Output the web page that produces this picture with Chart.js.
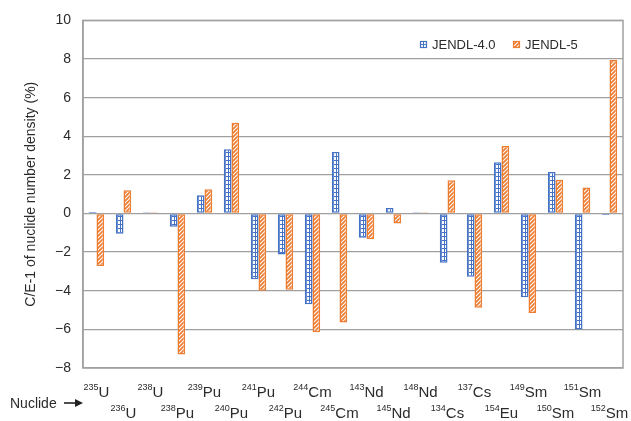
<!DOCTYPE html>
<html>
<head>
<meta charset="utf-8">
<script src="https://cdn.jsdelivr.net/npm/chart.js@4"></script>
<style>
  html, body { margin: 0; padding: 0; background: #fff; }
  #wrap { width: 631px; height: 421px; position: relative; }
</style>
</head>
<body>
<div id="wrap"><canvas id="chart"></canvas></div>
<script>
// Data
const massNumbers = ['235', '236', '238', '238', '239', '240', '241', '242', '244', '245',
                     '143', '145', '148', '134', '137', '154', '149', '150', '151', '152'];
const elements = ['U', 'U', 'U', 'Pu', 'Pu', 'Pu', 'Pu', 'Pu', 'Cm', 'Cm',
                  'Nd', 'Nd', 'Nd', 'Cs', 'Cs', 'Eu', 'Sm', 'Sm', 'Sm', 'Sm'];
const jendl40 = [0.08, -1.05, 0.07, -0.68, 0.95, 3.33, -3.4, -2.12, -4.7, 3.18,
                 -1.25, 0.28, 0.06, -2.55, -3.28, 2.65, -4.33, 2.15, -6.0, -0.08];
const jendl5 = [-2.72, 1.2, 0.07, -7.3, 1.25, 4.7, -4.0, -3.95, -6.15, -5.65,
                -1.32, -0.52, 0.06, 1.72, -4.88, 3.5, -5.15, 1.75, 1.35, 7.95];
const yTicks = [10, 8, 6, 4, 2, 0, -2, -4, -6, -8];

const labels = massNumbers.map((m, i) => m + elements[i]);

const BLUE = '#4472c4';
const ORANGE = '#ed7d31';
const FONT = '"Liberation Sans", Arial, sans-serif';

// Patterns
function gridPattern() {
    const c = document.createElement('canvas');
    c.width = 3; c.height = 4;
    const g = c.getContext('2d');
    g.fillStyle = '#fff';
    g.fillRect(0, 0, 3, 4);
    g.fillStyle = BLUE;
    g.fillRect(0, 0, 3, 1);
    g.fillRect(0, 0, 1, 4);
    return g.createPattern(c, 'repeat');
}

function hatchPattern() {
    const c = document.createElement('canvas');
    c.width = 4; c.height = 4;
    const g = c.getContext('2d');
    g.fillStyle = ORANGE;
    g.fillRect(0, 0, 4, 4);
    g.strokeStyle = '#fff';
    g.lineWidth = 1.1;
    g.beginPath();
    g.moveTo(-1, 5); g.lineTo(5, -1);
    g.moveTo(-1, 1); g.lineTo(1, -1);
    g.moveTo(3, 5); g.lineTo(5, 3);
    g.stroke();
    return g.createPattern(c, 'repeat');
}

const bluePat = gridPattern();
const orangePat = hatchPattern();

// Plugin: frame, legend, x labels
const decor = {
    id: 'decor',
    afterDraw(chart) {
        const ctx = chart.ctx;
        const a = chart.chartArea;
        const x = chart.scales.x;
        ctx.save();

        // frame
        ctx.strokeStyle = '#a0a0a0';
        ctx.lineWidth = 1.5;
        ctx.strokeRect(a.left, a.top, a.right - a.left, a.bottom - a.top);

        // legend
        const items = [
            { text: 'JENDL-4.0', fill: bluePat, stroke: BLUE, x: 420 },
            { text: 'JENDL-5', fill: orangePat, stroke: ORANGE, x: 513 }
        ];
        ctx.font = '13px ' + FONT;
        ctx.textBaseline = 'middle';
        ctx.textAlign = 'left';
        items.forEach(it => {
            ctx.fillStyle = it.fill;
            ctx.fillRect(it.x, 41, 7, 7);
            ctx.strokeStyle = it.stroke;
            ctx.lineWidth = 1.2;
            ctx.strokeRect(it.x + 0.5, 41.5, 6, 6);
            ctx.fillStyle = '#2b2b2b';
            ctx.fillText(it.text, it.x + 12, 45);
        });

        // x labels with superscript mass numbers, two staggered rows
        ctx.textBaseline = 'alphabetic';
        const supFont = '9px ' + FONT;
        const mainFont = '15px ' + FONT;
        massNumbers.forEach((m, i) => {
            const cx = x.getPixelForValue(i);
            const base = i % 2 === 0 ? 397 : 418;
            ctx.font = supFont;
            const ws = ctx.measureText(m).width;
            ctx.font = mainFont;
            const wm = ctx.measureText(elements[i]).width;
            const left = cx - (ws + wm) / 2;
            ctx.fillStyle = '#2b2b2b';
            ctx.font = supFont;
            ctx.fillText(m, left, base - 7);
            ctx.font = mainFont;
            ctx.fillText(elements[i], left + ws, base);
        });

        // "Nuclide ->"
        ctx.font = '14px ' + FONT;
        ctx.fillStyle = '#2b2b2b';
        ctx.fillText('Nuclide', 10, 408);
        ctx.strokeStyle = '#222';
        ctx.fillStyle = '#222';
        ctx.lineWidth = 1.6;
        ctx.beginPath();
        ctx.moveTo(64, 403);
        ctx.lineTo(77, 403);
        ctx.stroke();
        ctx.beginPath();
        ctx.moveTo(83, 403);
        ctx.lineTo(75, 399);
        ctx.lineTo(75, 407);
        ctx.closePath();
        ctx.fill();

        ctx.restore();
    }
};

// Chart
const config = {
    type: 'bar',
    data: {
        labels: labels,
        datasets: [
            {
                label: 'JENDL-4.0',
                data: jendl40,
                backgroundColor: bluePat,
                borderColor: BLUE,
                borderWidth: 1.5,
                borderSkipped: false,
            },
            {
                label: 'JENDL-5',
                data: jendl5,
                backgroundColor: orangePat,
                borderColor: ORANGE,
                borderWidth: 1.5,
                borderSkipped: false,
            }
        ]
    },
    options: {
        responsive: false,
        animation: false,
        devicePixelRatio: 1,
        layout: { padding: { left: 0, top: 20, right: 8, bottom: 0 } },
        datasets: { bar: { categoryPercentage: 0.57, barPercentage: 1.0 } },
        plugins: {
            legend: { display: false },
            tooltip: { enabled: false }
        },
        scales: {
            x: {
                grid: { display: false, drawTicks: false },
                border: { display: false },
                ticks: { display: false },
                afterFit(s) { s.height = 53; }
            },
            y: {
                min: -8,
                max: 10,
                afterBuildTicks(s) { s.ticks = yTicks.map(v => ({ value: v })); },
                ticks: {
                    padding: 12,
                    color: '#2b2b2b',
                    font: { family: FONT, size: 14 },
                    callback: v => (v < 0 ? '\u2212' + Math.abs(v) : String(v))
                },
                grid: { color: '#a0a0a0', lineWidth: 1.3, drawTicks: false },
                border: { color: '#a0a0a0', width: 1.5 },
                title: {
                    display: true,
                    text: 'C/E-1 of nuclide number density (%)',
                    color: '#2b2b2b',
                    font: { family: FONT, size: 14 },
                    padding: { top: 23, bottom: 0 }
                },
                afterFit(s) { s.width = 83; }
            }
        }
    },
    plugins: [decor]
};

const canvas = document.getElementById('chart');
canvas.width = 631;
canvas.height = 421;
canvas.style.width = '631px';
canvas.style.height = '421px';
new Chart(canvas, config);
</script>
</body>
</html>
